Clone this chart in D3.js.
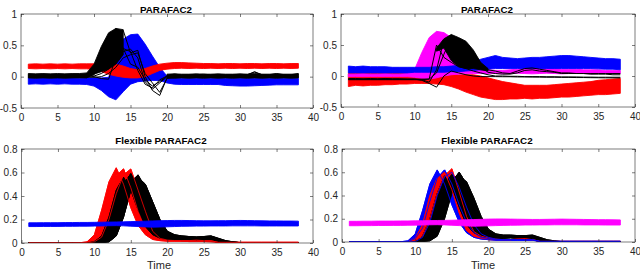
<!DOCTYPE html>
<html><head><meta charset="utf-8">
<script src="https://cdn.jsdelivr.net/npm/d3@7/dist/d3.min.js"></script>
<style>body{margin:0;background:#fff}svg{display:block}</style>
</head><body>
<script>
// ---------------- DATA ----------------
const time = [1,2,3,4,5,6,7,8,9,10,11,12,13,14,15,16,17,18,19,20,21,22,23,24,25,26,27,28,29,30,31,32,33,34,35,36,37,38];
const xTicks = [0,5,10,15,20,25,30,35,40];
const yTicksTop = [-0.5,0,0.5,1];
const yTicksBottom = [0,0.2,0.4,0.6,0.8];
const titles = ["PARAFAC2","PARAFAC2","Flexible PARAFAC2","Flexible PARAFAC2"];
const xLabel = "Time";

// Panel A (PARAFAC2, left)
const aRedTop = [0.2,0.205,0.2,0.205,0.2,0.205,0.2,0.205,0.205,0.205,0.21,0.22,0.2,0.17,0.13,0.11,0.13,0.17,0.2,0.215,0.225,0.225,0.22,0.215,0.21,0.21,0.205,0.21,0.21,0.205,0.21,0.21,0.205,0.21,0.21,0.205,0.21,0.21];
const aRedBot = [0.13,0.125,0.13,0.125,0.13,0.125,0.13,0.125,0.125,0.115,0.08,0.04,0.01,-0.01,-0.02,-0.02,0.0,0.05,0.1,0.12,0.13,0.135,0.13,0.135,0.13,0.135,0.13,0.135,0.13,0.135,0.13,0.135,0.13,0.135,0.13,0.135,0.13,0.135];
const aBlueTop = [-0.02,-0.025,-0.02,-0.025,-0.02,-0.025,-0.02,-0.025,-0.02,-0.02,-0.02,-0.01,0.3,0.6,0.67,0.68,0.52,0.33,0.15,0.01,-0.02,-0.025,-0.025,-0.025,-0.025,-0.025,-0.025,-0.025,-0.025,-0.025,-0.025,-0.025,-0.025,-0.025,-0.025,-0.025,-0.025,-0.025];
const aBlueBot = [-0.12,-0.115,-0.12,-0.115,-0.12,-0.115,-0.12,-0.12,-0.125,-0.15,-0.22,-0.32,-0.37,-0.24,-0.12,-0.08,-0.07,-0.06,-0.06,-0.1,-0.12,-0.125,-0.125,-0.125,-0.125,-0.125,-0.125,-0.14,-0.145,-0.15,-0.15,-0.145,-0.14,-0.135,-0.13,-0.13,-0.13,-0.13];
const aBlackTop = [0.05,0.045,0.05,0.045,0.05,0.045,0.05,0.05,0.06,0.2,0.48,0.7,0.77,0.75,null,null,null,null,null,0.04,0.045,0.04,0.04,0.045,0.04,0.04,0.045,0.04,0.04,0.045,0.04,0.05,0.04,0.04,0.045,0.04,0.04,0.045];
const aBlackBot = [-0.02,-0.025,-0.02,-0.025,-0.02,-0.025,-0.02,-0.02,-0.02,0.04,0.08,0.12,0.2,0.35,null,null,null,null,null,-0.02,-0.025,-0.02,-0.025,-0.02,-0.025,-0.02,-0.025,-0.02,-0.025,-0.02,-0.025,-0.02,-0.025,-0.02,-0.025,-0.02,-0.025,-0.02];
const aK1 = [0.02,0.02,0.02,0.02,0.02,0.02,0.02,0.02,0.02,0.08,0.35,0.62,0.77,0.45,0.4,0.1,-0.12,-0.18,-0.05,0.01,0.01,0.01,0.01,0.01,0.01,0.01,0.01,0.01,0.01,0.01,0.01,0.01,0.01,0.01,0.01,0.01,0.01,0.01];
const aK2 = [0,0,0,0,0,0,0,0,0,0.03,0.2,0.5,0.68,0.74,0.38,0.42,0.0,-0.22,-0.3,-0.02,0,0,0,0,0,0,0,0,0,0,0,0,0,0,0,0,0,0];
const aK3 = [0.01,0.01,0.01,0.01,0.01,0.01,0.01,0.01,0.01,0.01,0.05,0.12,0.42,0.4,0.44,0.3,-0.08,-0.2,-0.1,0.0,0.02,0.02,0.025,0.02,0.03,0.02,0.02,0.02,0.025,0.02,0.03,0.08,0.03,0.02,0.025,0.03,0.02,0.04];
const aK4 = [-0.01,-0.01,-0.01,-0.01,-0.01,-0.01,-0.01,-0.01,-0.01,-0.01,0.0,0.05,0.15,0.3,0.35,0.38,0.05,-0.1,-0.25,-0.03,-0.01,-0.01,-0.01,-0.01,-0.01,-0.01,-0.01,-0.01,-0.01,-0.01,-0.01,-0.01,-0.01,-0.01,-0.01,-0.01,-0.01,-0.01];
const aK5 = [0.03,0.03,0.03,0.03,0.03,0.03,0.03,0.03,0.02,0.0,-0.03,-0.04,0.3,0.45,0.2,0.15,-0.05,-0.15,-0.08,0.01,0.04,0.03,0.03,0.03,0.04,0.03,0.03,0.03,0.03,0.03,0.03,0.07,0.03,0.03,0.05,0.03,0.03,0.05];

// Panel B (PARAFAC2, right)
const bBlueTop = [0.16,0.15,0.16,0.15,0.15,0.15,0.14,0.14,0.14,0.14,0.14,0.14,0.15,0.15,0.16,0.17,0.19,0.22,0.27,0.3,0.33,0.3,0.29,0.28,0.29,0.3,0.3,0.31,0.32,0.33,0.33,0.32,0.31,0.3,0.29,0.28,0.28,0.27];
const bBlueBot = [0.05,0.05,0.05,0.05,0.05,0.05,0.05,0.05,0.05,0.06,0.06,0.06,0.06,0.06,0.07,0.07,0.08,0.09,0.1,0.11,0.12,0.12,0.12,0.12,0.12,0.12,0.12,0.12,0.12,0.12,0.12,0.12,0.12,0.12,0.115,0.11,0.11,0.1];
const bRedTop = [0.04,0.04,0.04,0.04,0.04,0.04,0.04,0.04,0.04,0.04,0.04,0.04,0.04,0.03,0.03,0.02,0.02,0.02,0.0,-0.03,-0.06,-0.09,-0.11,-0.13,-0.15,-0.15,-0.15,-0.15,-0.14,-0.13,-0.12,-0.11,-0.1,-0.09,-0.07,-0.06,-0.05,-0.04];
const bRedBot = [-0.17,-0.15,-0.16,-0.15,-0.15,-0.14,-0.14,-0.13,-0.13,-0.12,-0.12,-0.12,-0.13,-0.14,-0.17,-0.21,-0.26,-0.3,-0.34,-0.36,-0.38,-0.38,-0.37,-0.37,-0.36,-0.37,-0.36,-0.36,-0.35,-0.34,-0.34,-0.33,-0.32,-0.31,-0.3,-0.3,-0.29,-0.28];
const bMagTop = [0.03,0.03,0.035,0.03,0.03,0.035,0.03,0.03,0.04,0.1,0.38,0.62,0.72,0.7,0.62,0.52,0.36,0.2,0.12,0.1,0.09,0.09,0.1,0.11,0.12,0.13,0.13,0.12,0.12,0.11,0.11,0.11,0.1,0.1,0.1,0.09,0.09,0.09];
const bMagBot = [-0.01,-0.01,-0.01,-0.01,-0.01,-0.01,-0.01,-0.01,-0.01,-0.02,-0.04,-0.05,-0.03,0.0,0.02,0.03,0.04,0.04,0.04,0.04,0.04,0.035,0.04,0.045,0.04,0.035,0.04,0.045,0.04,0.035,0.04,0.045,0.04,0.035,0.04,0.045,0.04,0.04];
const bBlackTop = [null,null,null,null,null,null,null,null,null,null,null,null,0.45,0.6,0.67,0.62,0.56,0.42,0.22,0.12,null,null,null,null,null,null,null,null,null,null,null,null,null,null,null,null,null,null];
const bBlackBot = [null,null,null,null,null,null,null,null,null,null,null,null,0.4,0.45,0.25,0.15,0.12,0.12,0.1,0.08,null,null,null,null,null,null,null,null,null,null,null,null,null,null,null,null,null,null];
const bK1 = [-0.04,-0.04,-0.045,-0.04,-0.045,-0.04,-0.045,-0.045,-0.05,-0.05,-0.07,-0.12,-0.18,0.0,0.08,0.05,0.02,0.0,-0.01,-0.01,-0.01,-0.012,-0.012,-0.015,-0.015,-0.017,-0.018,-0.02,-0.02,-0.022,-0.022,-0.025,-0.025,-0.027,-0.028,-0.03,-0.03,-0.03];
const bK2 = [-0.055,-0.055,-0.055,-0.055,-0.055,-0.055,-0.055,-0.055,-0.055,-0.055,-0.06,-0.05,0.5,0.3,0.22,0.15,0.12,0.08,0.05,0.02,0.0,0.0,-0.005,-0.005,-0.01,-0.01,-0.01,-0.012,-0.012,-0.015,-0.015,-0.015,-0.018,-0.018,-0.02,-0.02,-0.02,-0.02];
const bK3 = [-0.06,-0.06,-0.06,-0.06,-0.06,-0.06,-0.06,-0.06,-0.06,-0.06,-0.06,-0.1,0.1,0.58,0.66,0.58,0.5,0.4,0.2,0.1,0.08,0.05,0.04,0.08,0.12,0.13,0.11,0.09,0.07,0.05,0.05,0.04,0.04,0.03,0.03,0.03,0.02,0.02];
const bK4 = [-0.05,-0.05,-0.05,-0.05,-0.05,-0.05,-0.05,-0.05,-0.05,-0.05,-0.05,-0.05,0.05,0.35,0.62,0.6,0.45,0.3,0.15,0.06,0.04,0.03,0.03,0.05,0.09,0.1,0.08,0.07,0.06,0.04,0.04,0.04,0.04,0.04,0.04,0.04,0.04,0.04];

// Panel C (Flexible PARAFAC2, left)
const cR1 = [0,0,0,0,0,0,0,0.002,0.01,0.07,0.28,0.52,0.64,0.5,0.3,0.15,0.07,0.03,0.02,0.015,0.015,0.015,0.012,0.012,0.012,0.01,0.005,0.005,0.005,0.005,0.005,0.005,0.005,0.005,0.005,0.005,0.005,0.005];
const cR2 = [0,0,0,0,0,0,0,0,0.005,0.03,0.14,0.38,0.57,0.63,0.47,0.27,0.12,0.06,0.03,0.02,0.02,0.02,0.02,0.025,0.02,0.02,0.005,0.005,0.005,0.005,0.005,0.005,0.005,0.005,0.005,0.005,0.005,0.005];
const cR3 = [0,0,0,0,0,0,0,0,0,0.01,0.05,0.2,0.42,0.58,0.63,0.45,0.27,0.1,0.04,0.025,0.02,0.02,0.02,0.02,0.02,0.02,0.005,0.005,0.005,0.005,0.005,0.005,0.005,0.005,0.005,0.005,0.005,0.005];
const cK1 = [0.003,0.003,0.003,0.003,0.003,0.003,0.003,0.003,0.003,0.01,0.06,0.22,0.45,0.56,0.45,0.28,0.14,0.07,0.04,0.03,0.025,0.02,0.02,0.02,0.02,0.02,0.01,0.003,0.003,0.003,0.003,0.003,0.003,0.003,0.003,0.003,0.003,0.003];
const cK4 = [0.003,0.003,0.003,0.003,0.003,0.003,0.003,0.003,0.003,0.003,0.015,0.05,0.22,0.45,0.55,0.52,0.38,0.22,0.12,0.07,0.05,0.045,0.04,0.045,0.045,0.05,0.03,0.01,0.003,0.003,0.003,0.003,0.003,0.003,0.003,0.003,0.003,0.003];
const cK2 = [0.003,0.003,0.003,0.003,0.003,0.003,0.003,0.003,0.003,0.003,0.02,0.1,0.3,0.5,0.59,0.48,0.3,0.16,0.08,0.05,0.04,0.035,0.035,0.035,0.04,0.035,0.02,0.01,0.003,0.003,0.003,0.003,0.003,0.003,0.003,0.003,0.003,0.003];
const cK5 = [0.003,0.003,0.003,0.003,0.003,0.003,0.003,0.003,0.003,0.003,0.003,0.01,0.06,0.22,0.45,0.56,0.5,0.35,0.2,0.1,0.07,0.06,0.055,0.05,0.055,0.06,0.04,0.02,0.01,0.003,0.003,0.003,0.003,0.003,0.003,0.003,0.003,0.003];
const cK3 = [0.003,0.003,0.003,0.003,0.003,0.003,0.003,0.003,0.003,0.003,0.003,0.03,0.15,0.36,0.52,0.58,0.47,0.3,0.15,0.09,0.065,0.055,0.05,0.05,0.05,0.055,0.035,0.015,0.008,0.003,0.003,0.003,0.003,0.003,0.003,0.003,0.003,0.003];
const cBTop = [0.172,0.172,0.173,0.173,0.173,0.174,0.174,0.175,0.175,0.176,0.177,0.178,0.179,0.18,0.182,0.184,0.186,0.188,0.19,0.191,0.192,0.192,0.191,0.19,0.189,0.189,0.19,0.19,0.191,0.192,0.191,0.19,0.189,0.188,0.188,0.187,0.187,0.186];
const cBBot = [0.14,0.14,0.141,0.141,0.141,0.142,0.142,0.143,0.143,0.144,0.145,0.147,0.148,0.146,0.143,0.14,0.137,0.135,0.136,0.138,0.14,0.142,0.143,0.144,0.144,0.145,0.145,0.145,0.146,0.146,0.146,0.146,0.145,0.145,0.145,0.145,0.145,0.145];

// Panel D (Flexible PARAFAC2, right)
const dB1 = [0.002,0.002,0.002,0.002,0.002,0.002,0.002,0.002,0.01,0.07,0.27,0.5,0.62,0.5,0.32,0.17,0.08,0.04,0.025,0.02,0.015,0.015,0.015,0.015,0.015,0.015,0.005,0.005,0.005,0.005,0.005,0.005,0.005,0.005,0.005,0.005,0.005,0.005];
const dB2 = [0.002,0.002,0.002,0.002,0.002,0.002,0.002,0.002,0.002,0.03,0.12,0.35,0.55,0.62,0.5,0.32,0.17,0.08,0.04,0.03,0.02,0.02,0.02,0.02,0.02,0.02,0.005,0.005,0.005,0.005,0.005,0.005,0.005,0.005,0.005,0.005,0.005,0.005];
const dB3 = [0.002,0.002,0.002,0.002,0.002,0.002,0.002,0.002,0.002,0.002,0.04,0.17,0.4,0.56,0.6,0.47,0.3,0.15,0.07,0.04,0.025,0.02,0.02,0.02,0.02,0.02,0.005,0.005,0.005,0.005,0.005,0.005,0.005,0.005,0.005,0.005,0.005,0.005];
const dR1 = [0.002,0.002,0.002,0.002,0.002,0.002,0.002,0.002,0.002,0.03,0.15,0.4,0.55,0.6,0.45,0.25,0.1,0.05,0.03,0.02,0.02,0.02,0.02,0.025,0.02,0.02,0.005,0.005,0.005,0.005,0.005,0.005,0.005,0.005,0.005,0.005,0.005,0.005];
const dR2 = [0.002,0.002,0.002,0.002,0.002,0.002,0.002,0.002,0.002,0.01,0.05,0.2,0.42,0.57,0.63,0.43,0.22,0.09,0.05,0.035,0.025,0.02,0.02,0.025,0.03,0.02,0.005,0.005,0.005,0.005,0.005,0.005,0.005,0.005,0.005,0.005,0.005,0.005];
const dK1 = [0.003,0.003,0.003,0.003,0.003,0.003,0.003,0.003,0.003,0.003,0.05,0.2,0.42,0.57,0.47,0.3,0.15,0.08,0.05,0.035,0.03,0.03,0.035,0.03,0.03,0.03,0.015,0.003,0.003,0.003,0.003,0.003,0.003,0.003,0.003,0.003,0.003,0.003];
const dK2 = [0.003,0.003,0.003,0.003,0.003,0.003,0.003,0.003,0.003,0.003,0.02,0.1,0.3,0.5,0.58,0.5,0.33,0.18,0.09,0.055,0.045,0.04,0.05,0.045,0.04,0.045,0.02,0.003,0.003,0.003,0.003,0.003,0.003,0.003,0.003,0.003,0.003,0.003];
const dK3 = [0.003,0.003,0.003,0.003,0.003,0.003,0.003,0.003,0.003,0.003,0.003,0.03,0.13,0.33,0.52,0.6,0.5,0.33,0.17,0.09,0.06,0.05,0.055,0.05,0.05,0.055,0.03,0.012,0.003,0.003,0.003,0.003,0.003,0.003,0.003,0.003,0.003,0.003];
const dK4 = [0.003,0.003,0.003,0.003,0.003,0.003,0.003,0.003,0.003,0.003,0.003,0.01,0.05,0.2,0.42,0.56,0.52,0.38,0.22,0.11,0.07,0.06,0.06,0.055,0.055,0.06,0.04,0.02,0.01,0.003,0.003,0.003,0.003,0.003,0.003,0.003,0.003,0.003];
const dMTop = [0.178,0.178,0.179,0.179,0.18,0.18,0.18,0.181,0.181,0.182,0.183,0.184,0.185,0.186,0.187,0.189,0.191,0.193,0.195,0.197,0.198,0.198,0.197,0.196,0.195,0.194,0.194,0.195,0.196,0.197,0.196,0.195,0.194,0.193,0.192,0.192,0.191,0.19];
const dMBot = [0.14,0.14,0.141,0.141,0.142,0.142,0.143,0.143,0.144,0.145,0.146,0.148,0.149,0.147,0.144,0.141,0.138,0.136,0.137,0.139,0.141,0.143,0.144,0.145,0.146,0.146,0.147,0.147,0.148,0.148,0.148,0.148,0.147,0.147,0.147,0.146,0.146,0.146];

// ---------------- DRAWING ----------------
const RED = "#ff0000", BLUE = "#0000ff", BLACK = "#000000", MAG = "#ff00ff";
const W = 640, H = 270;
const FONT = "'Liberation Sans', Arial, Helvetica, sans-serif";

const panels = [
  { box:[21,313,14,108], yDomain:[-0.5,1], yTicks:yTicksTop, title:titles[0], titleX:166, titleY:12.5, xlab:false,
    layers:[
      {band:[aBlueTop,aBlueBot], c:BLUE},
      {band:[aRedTop,aRedBot], c:RED},
      {band:[aBlackTop,aBlackBot], c:BLACK},
      {lines:[aK1,aK2,aK3,aK4,aK5], c:BLACK, w:1}
    ]},
  { box:[341,635,14,107], yDomain:[-0.5,1], yTicks:yTicksTop, title:titles[1], titleX:487, titleY:12.5, xlab:false,
    layers:[
      {band:[bRedTop,bRedBot], c:RED},
      {band:[bMagTop,bMagBot], c:MAG},
      {band:[bBlueTop,bBlueBot], c:BLUE},
      {band:[bBlackTop,bBlackBot], c:BLACK},
      {lines:[bK1,bK2,bK3,bK4], c:BLACK, w:1}
    ]},
  { box:[21.5,313,149,243], yDomain:[0,0.8], yTicks:yTicksBottom, title:titles[2], titleX:161, titleY:143.5, xlab:true, xlabX:159,
    layers:[
      {band:[cR1,cR2], c:RED},{band:[cR2,cR3], c:RED},
      {band:[cK1,cK4], c:BLACK},{band:[cK4,cK2], c:BLACK},{band:[cK2,cK5], c:BLACK},{band:[cK5,cK3], c:BLACK},
      {lines:[cK1,cK4,cK2,cK5,cK3], c:BLACK, w:1},
      {lines:[cR1,cR2,cR3], c:RED, w:0.8},
      {band:[cBTop,cBBot], c:BLUE}
    ]},
  { box:[342,635,149,242], yDomain:[0,0.8], yTicks:yTicksBottom, title:titles[3], titleX:487, titleY:143.5, xlab:true, xlabX:483,
    layers:[
      {band:[dB1,dB2], c:BLUE},{band:[dB2,dB3], c:BLUE},
      {band:[dR1,dR2], c:RED},
      {band:[dK1,dK2], c:BLACK},{band:[dK2,dK3], c:BLACK},{band:[dK3,dK4], c:BLACK},
      {lines:[dK1,dK2,dK3,dK4], c:BLACK, w:1},
      {lines:[dR1,dR2], c:RED, w:0.9},
      {lines:[dB1,dB2,dB3], c:BLUE, w:0.9},
      {band:[dMTop,dMBot], c:MAG}
    ]}
];

const svg = d3.select("body").append("svg").attr("width", W).attr("height", H)
  .style("font-family", FONT);

panels.forEach((p, pi) => {
  const [x0,x1,y0,y1] = p.box;
  const x = d3.scaleLinear().domain([0,40]).range([x0,x1]);
  const y = d3.scaleLinear().domain(p.yDomain).range([y1,y0]);
  const g = svg.append("g");
  const clipId = "clip" + pi;
  g.append("clipPath").attr("id", clipId).append("rect")
    .attr("x", x0).attr("y", y0).attr("width", x1-x0).attr("height", y1-y0);
  const plot = g.append("g").attr("clip-path", `url(#${clipId})`);
  const line = d3.line().x(d => x(d[0])).y(d => y(d[1]));

  p.layers.forEach(L => {
    if (L.band) {
      const [top, bot] = L.band;
      let seg = [];
      const segs = [];
      time.forEach((t,i) => {
        if (top[i] != null && bot[i] != null) seg.push(i);
        else { if (seg.length) segs.push(seg); seg = []; }
      });
      if (seg.length) segs.push(seg);
      segs.forEach(s => {
        const up = s.map(i => [time[i], top[i]]);
        const dn = s.slice().reverse().map(i => [time[i], bot[i]]);
        plot.append("path").attr("d", line(up.concat(dn)) + "Z")
          .attr("fill", L.c).attr("stroke", L.c).attr("stroke-width", 0.9)
          .attr("stroke-linejoin", "round");
      });
    } else if (L.lines) {
      L.lines.forEach(vals => {
        const l2 = d3.line().defined(d => d[1] != null).x(d => x(d[0])).y(d => y(d[1]));
        plot.append("path").attr("d", l2(time.map((t,i) => [t, vals[i]])))
          .attr("fill", "none").attr("stroke", L.c).attr("stroke-width", L.w)
          .attr("stroke-linejoin", "round");
      });
    }
  });

  const axCol = "#262626";
  const styleAxis = sel => {
    sel.select(".domain").remove();
    sel.selectAll(".tick line").attr("stroke", axCol).attr("stroke-width", 0.6);
    sel.selectAll(".tick text").attr("fill", axCol).style("font-size", "10px").style("font-family", FONT);
  };
  g.append("g").attr("transform", `translate(0,${y1})`)
    .call(d3.axisBottom(x).tickValues(xTicks).tickFormat(d3.format("d")).tickSize(-3).tickPadding(5.5))
    .call(styleAxis);
  g.append("g").attr("transform", `translate(0,${y0})`)
    .call(d3.axisTop(x).tickValues(xTicks).tickFormat("").tickSize(-3))
    .call(styleAxis);
  g.append("g").attr("transform", `translate(${x0},0)`)
    .call(d3.axisLeft(y).tickValues(p.yTicks).tickFormat(d => String(d)).tickSize(-3).tickPadding(4))
    .call(styleAxis);
  g.append("g").attr("transform", `translate(${x1},0)`)
    .call(d3.axisRight(y).tickValues(p.yTicks).tickFormat("").tickSize(-3))
    .call(styleAxis);
  g.append("rect").attr("x", x0).attr("y", y0).attr("width", x1-x0).attr("height", y1-y0)
    .attr("fill", "none").attr("stroke", axCol).attr("stroke-width", 0.6);

  g.append("text").attr("x", p.titleX).attr("y", p.titleY).attr("text-anchor", "middle")
    .style("font-size", "9.8px").style("font-weight", "bold").attr("fill", "#000").text(p.title);
  if (p.xlab) {
    g.append("text").attr("x", p.xlabX).attr("y", 268.5).attr("text-anchor", "middle")
      .style("font-size", "11px").attr("fill", axCol).text(xLabel);
  }
});
</script>
</body></html>
